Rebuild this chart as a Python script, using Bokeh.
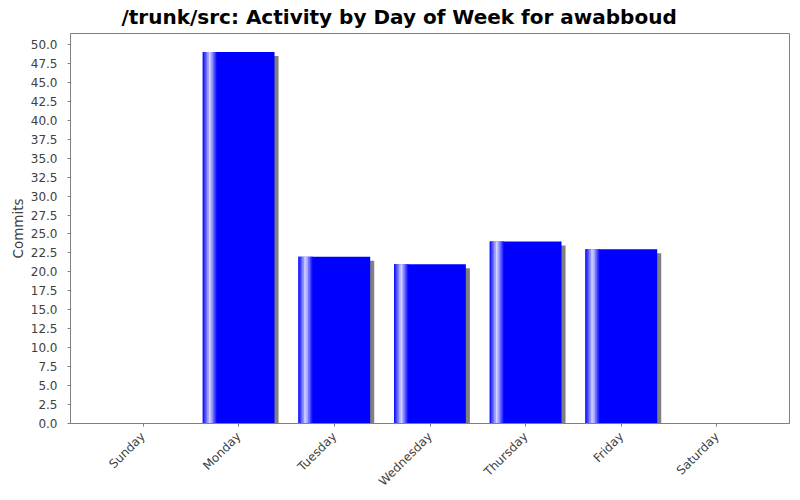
import math
import numpy as np
from bokeh.plotting import figure
from bokeh.models import (FactorRange, Range1d, SingleIntervalTicker,
                          NumeralTickFormatter, ColumnDataSource)
from bokeh.transform import dodge
from bokeh.embed import file_html
from bokeh.resources import INLINE

# ---- data ----
days = ["Sunday", "Monday", "Tuesday", "Wednesday", "Thursday", "Friday", "Saturday"]
commits = [0, 49, 22, 21, 24, 23, 0]

title_text = "/trunk/src: Activity by Day of Week for awabboud"
y_label = "Commits"

# ---- style ----
FONT = "DejaVu Sans"
BAR_W = 0.75
BAR_COLOR = (0, 0, 255)
SHADOW_COLOR = "#808080"
SHADOW_DX = 0.042   # ~4 px in factor units
SHADOW_DY = 0.53    # ~4 px in value units
AXIS_GRAY = "#808080"
LABEL_GRAY = "#404040"

source = ColumnDataSource(dict(day=days, commits=commits))

p = figure(width=800, height=500,
           x_range=FactorRange(factors=days, range_padding=0.0737,
                               range_padding_units="percent"),
           y_range=Range1d(0, 51.45),
           output_backend="svg", toolbar_location=None,
           min_border_left=70, min_border_right=11,
           min_border_top=33, min_border_bottom=77,
           title=title_text)

# shadow
p.vbar(x=dodge("day", SHADOW_DX, range=p.x_range), top=dodge("commits", -SHADOW_DY),
       bottom=0, width=BAR_W, source=source,
       fill_color=SHADOW_COLOR, line_color=None)

# main bar body
p.vbar(x="day", top="commits", bottom=0, width=BAR_W, source=source,
       fill_color="#%02x%02x%02x" % BAR_COLOR, line_color=None)

# gradient highlight strips (blue -> white over 0-10%, white -> blue over 10-20%)
n_strips = 20
edges = np.linspace(0.0, 0.2, n_strips + 1)
for a, b in zip(edges[:-1], edges[1:]):
    f = (a + b) / 2
    t = f / 0.1 if f <= 0.1 else (0.2 - f) / 0.1
    col = tuple(int(round(c + (255 - c) * t)) for c in BAR_COLOR)
    off = -BAR_W / 2 + f * BAR_W
    w = (b - a) * BAR_W * 1.15
    p.vbar(x=dodge("day", off, range=p.x_range), top="commits", bottom=0,
           width=w, source=source,
           fill_color="#%02x%02x%02x" % col, line_color=None)

# title
p.title.text_font = FONT
p.title.text_font_size = "20px"
p.title.text_font_style = "bold"
p.title.text_color = "black"
p.title.align = "left"
p.title.offset = 51
p.title.vertical_align = "top"
p.title.standoff = 5

# axes
p.yaxis.ticker = SingleIntervalTicker(interval=2.5)
p.yaxis.formatter = NumeralTickFormatter(format="0.0")
p.yaxis.axis_label = y_label
p.yaxis.axis_label_text_font = FONT
p.yaxis.axis_label_text_font_size = "13.5px"
p.yaxis.axis_label_text_font_style = "normal"
p.yaxis.axis_label_text_color = LABEL_GRAY
p.yaxis.axis_label_standoff = 2
p.yaxis.major_label_standoff = 9
p.xaxis.major_label_standoff = 8

p.axis.major_label_text_font = FONT
p.axis.major_label_text_font_size = "12px"
p.axis.major_label_text_color = LABEL_GRAY
p.axis.axis_line_color = AXIS_GRAY
p.axis.major_tick_line_color = AXIS_GRAY
p.axis.major_tick_out = 3
p.axis.major_tick_in = 0
p.axis.minor_tick_line_color = None
p.xaxis.major_label_orientation = math.pi / 4

p.grid.visible = False
p.outline_line_color = AXIS_GRAY
p.background_fill_color = "white"
p.border_fill_color = "white"

open("out.html", "w").write(file_html(p, INLINE))
